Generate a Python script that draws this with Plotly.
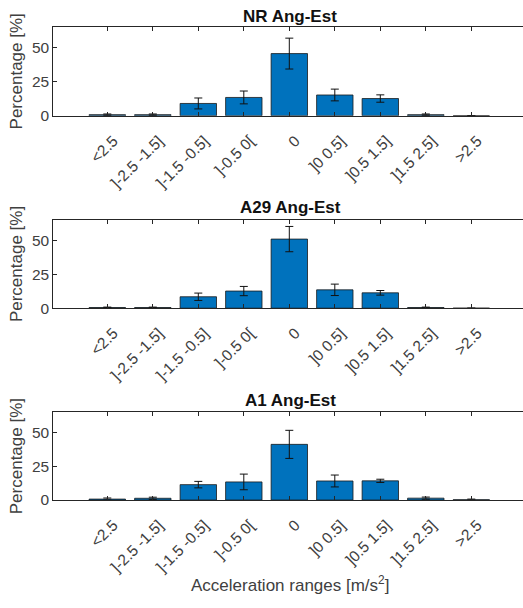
import plotly.graph_objects as go

# Acceleration-range categories shared by all three panels
categories = ["<2.5", "]-2.5 -1.5]", "]-1.5 -0.5]", "]-0.5 0[", "0",
              "]0 0.5]", "]0.5 1.5]", "]1.5 2.5]", ">2.5"]

# Mean percentage per range and its error (one list each per road section);
# None marks a range with no error bar
nr_values = [0.8, 0.8, 9.0, 13.4, 45.5, 15.2, 12.6, 0.8, 0.0]
nr_errors = [0.5, 0.5, 4.0, 4.7, 11.3, 4.3, 2.7, 0.5, None]

a29_values = [0.5, 0.5, 8.4, 12.6, 50.8, 13.5, 11.3, 0.5, 0.0]
a29_errors = [0.3, 0.3, 2.7, 3.4, 9.3, 4.2, 1.7, 0.3, None]

a1_values = [0.7, 1.3, 11.4, 13.4, 41.2, 14.1, 14.2, 1.4, 0.2]
a1_errors = [0.8, 0.8, 2.4, 5.8, 10.4, 4.4, 1.2, 0.8, 0.5]

panel_titles = ["NR Ang-Est", "A29 Ang-Est", "A1 Ang-Est"]
y_ticks = [0, 25, 50]
y_range = [0, 65]

W, H = 523, 608
BAR = "#0072BD"
AXIS = "#262626"
TEXT = "#404040"
FONT = "Liberation Sans, Arial, sans-serif"

series = [(nr_values, nr_errors), (a29_values, a29_errors), (a1_values, a1_errors)]
# vertical extent of each plot area in pixels (top, bottom)
rows_px = [(27.3, 117.3), (222.7, 312.3), (417.7, 506.7)]
title_y_px = [16.3, 210.3, 405.8]
left_px = 53.3

fig = go.Figure()
layout = dict(
    width=W, height=H,
    margin=dict(l=0, r=0, t=0, b=0),
    paper_bgcolor="white", plot_bgcolor="white",
    showlegend=False,
    font=dict(family=FONT, color=TEXT),
    annotations=[],
)

for i, ((vals, errs), title, (top, bot), ty) in enumerate(
        zip(series, panel_titles, rows_px, title_y_px)):
    xa = i + 1
    ya = 2 * i + 1          # left y axis carrying the bars
    yr = 2 * i + 2          # right-hand tick-only axis
    xs = "" if xa == 1 else str(xa)
    ys = "" if ya == 1 else str(ya)
    rs = str(yr)
    fig.add_trace(go.Bar(
        x=categories, y=vals,
        width=0.8,
        marker=dict(color=BAR, line=dict(color="#1a1a1a", width=0.8)),
        error_y=dict(type="data", array=errs, visible=True,
                     color="#111111", thickness=1, width=4),
        xaxis="x" + xs, yaxis="y" + ys,
    ))
    dom_y = [1 - bot / H, 1 - top / H]
    layout["xaxis" + xs] = dict(
        domain=[left_px / W, 1],
        anchor="y" + ys,
        type="category",
        range=[-1.187, 9.136],
        showline=True, linecolor=AXIS, linewidth=1,
        mirror="ticks", ticks="inside", ticklen=4, tickcolor=AXIS,
        tickangle=-45,
        ticklabelstandoff=9, ticklabelshift=6,
        tickfont=dict(size=15.5, color=TEXT, family=FONT),
        showgrid=False, zeroline=False,
    )
    layout["yaxis" + ys] = dict(
        domain=dom_y,
        anchor="x" + xs,
        range=y_range,
        tickvals=y_ticks,
        showline=True, linecolor=AXIS, linewidth=1,
        mirror=False, ticks="inside", ticklen=4, tickcolor=AXIS,
        tickfont=dict(size=15.5, color=TEXT, family=FONT),
        showgrid=False, zeroline=False,
        title=dict(text="Percentage [%]", standoff=4,
                   font=dict(size=17, color=TEXT, family=FONT)),
    )
    # right-hand ticks without a frame line
    layout["yaxis" + rs] = dict(
        overlaying="y" + ys,
        anchor="x" + xs,
        side="right",
        range=y_range,
        tickvals=y_ticks,
        showline=False, ticks="inside", ticklen=3, tickcolor=AXIS,
        showticklabels=False,
        showgrid=False, zeroline=False,
    )
    layout["annotations"].append(dict(
        text="<b>" + title + "</b>",
        x=290 / W, y=1 - ty / H, xref="paper", yref="paper",
        xanchor="center", yanchor="middle", showarrow=False,
        font=dict(size=17, color="#111111", family=FONT),
    ))

layout["annotations"].append(dict(
    text="Acceleration ranges [m/s<sup>2</sup>]",
    x=290 / W, y=1 - 592 / H, xref="paper", yref="paper",
    xanchor="center", yanchor="middle", showarrow=False,
    font=dict(size=17, color=TEXT, family=FONT),
))

fig.update_layout(**layout)
fig.write_html("out.html")
